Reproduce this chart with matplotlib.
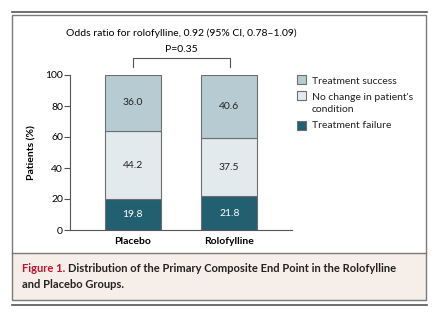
import matplotlib.pyplot as plt
from matplotlib.patches import Rectangle
from matplotlib.lines import Line2D
import numpy as np

groups = ["Placebo", "Rolofylline"]
failure = [19.8, 21.8]
no_change = [44.2, 37.5]
success = [36.0, 40.6]
labels = ["Treatment success", "No change in patient's\ncondition", "Treatment failure"]
colors = ["#b7ccd2", "#e3eaee", "#225f71"]
yticks = [0, 20, 40, 60, 80, 100]

W, H = 441, 324
plt.rcParams['font.family'] = ['Lato', 'DejaVu Sans']

fig = plt.figure(figsize=(W/100, H/100), dpi=100)

def fx(x):
    return x / W

def fy(y):
    return 1 - y / H

# frame, caption panel and rules
fig.add_artist(Line2D([fx(12), fx(427)], [fy(12), fy(12)], color="#555555", lw=1.2))
fig.add_artist(Line2D([fx(12), fx(427)], [fy(305), fy(305)], color="#555555", lw=1.2))
fig.add_artist(Rectangle((fx(12), fy(300)), fx(414), 47/H, facecolor="#f6eee8",
                         edgecolor="none"))
fig.add_artist(Rectangle((fx(12), fy(300)), fx(414), 285/H, facecolor="none",
                         edgecolor="#7a7a7a", lw=1.0))
fig.add_artist(Line2D([fx(12), fx(426)], [fy(253), fy(253)], color="#7a7a7a", lw=1.0))

ax = fig.add_axes([fx(70), fy(230), 222/W, 155/H])
x = np.arange(len(groups))
w = 0.58
ax.bar(x, failure, w, color=colors[2], edgecolor="#6e6e6e", lw=0.8)
ax.bar(x, no_change, w, bottom=failure, color=colors[1], edgecolor="#6e6e6e", lw=0.8)
bottom2 = np.array(failure) + np.array(no_change)
ax.bar(x, success, w, bottom=bottom2, color=colors[0], edgecolor="#6e6e6e", lw=0.8)

for i in range(len(groups)):
    ax.text(x[i], failure[i]/2, "%.1f" % failure[i], ha="center", va="center",
            color="white", fontsize=7.5)
    ax.text(x[i], failure[i] + no_change[i]/2, "%.1f" % no_change[i], ha="center",
            va="center", color="#222222", fontsize=7.5)
    ax.text(x[i], bottom2[i] + success[i]/2, "%.1f" % success[i], ha="center",
            va="center", color="#222222", fontsize=7.5)

ax.set_xlim(-0.65, 1.65)
ax.set_ylim(0, 100)
ax.set_yticks(yticks)
ax.set_xticks(x)
ax.set_xticklabels(groups, fontweight="bold", fontsize=7.5)
ax.tick_params(axis="x", length=0, pad=5)
ax.tick_params(axis="y", length=4, width=0.8, color="#555555", labelsize=7.5, pad=1)
ax.spines["top"].set_visible(False)
ax.spines["right"].set_visible(False)
for s in ["left", "bottom"]:
    ax.spines[s].set_color("#555555")
    ax.spines[s].set_linewidth(0.8)
ax.set_ylabel("Patients (%)", fontweight="bold", fontsize=7.5, labelpad=6)
ax.patch.set_alpha(0)

# legend, drawn by hand so the box sits next to the first line of a wrapped label
leg_y = [80, 96, 125]
leg_c = [colors[0], colors[1], colors[2]]
for yy, lab, c in zip(leg_y, labels, leg_c):
    fig.add_artist(Rectangle((fx(297), fy(yy + 4.5)), 9/W, 9/H, facecolor=c,
                             edgecolor="#6e6e6e", lw=0.8))
    fig.text(fx(312), fy(yy - 3.5), lab, ha="left", va="top", fontsize=7.5,
             linespacing=1.45, color="#222222")

# annotations above
fig.text(fx(181), fy(33), "Odds ratio for rolofylline, 0.92 (95% CI, 0.78\u20131.09)",
         ha="center", va="center", fontsize=7.5)
fig.text(fx(181), fy(50), "P=0.35", ha="center", va="center", fontsize=7.5)
fig.add_artist(Line2D([fx(133), fx(133), fx(229.5), fx(229.5)],
                      [fy(67), fy(58), fy(58), fy(67)], color="#555555", lw=0.8))

# caption
fig.text(fx(22), fy(268), "Figure 1.", color="#c8102e", fontweight="bold", fontsize=8,
         va="center")
fig.text(fx(68), fy(268), "Distribution of the Primary Composite End Point in the Rolofylline",
         color="#222222", fontweight="bold", fontsize=8, va="center")
fig.text(fx(22), fy(284), "and Placebo Groups.", color="#222222", fontweight="bold",
         fontsize=8, va="center")

fig.savefig("out.png", dpi=100)
